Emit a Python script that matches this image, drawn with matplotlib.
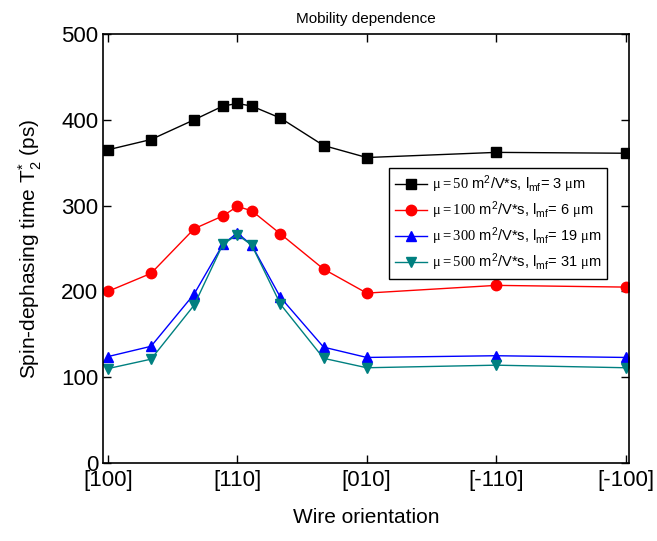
import matplotlib
matplotlib.use("Agg")
import matplotlib.pyplot as plt

plt.rcParams['font.family'] = ['Liberation Sans', 'DejaVu Sans']
plt.rcParams['mathtext.fontset'] = 'custom'
plt.rcParams['mathtext.rm'] = 'Liberation Serif'
plt.rcParams['mathtext.sf'] = 'Liberation Sans'
plt.rcParams['mathtext.it'] = 'Liberation Sans:italic'

angles = [0, 15, 30, 40, 45, 50, 60, 75, 90, 135, 180]
t_mu50 = [365, 377, 400, 416, 419, 416, 402, 370, 356, 362, 361]
t_mu100 = [200, 221, 273, 288, 299, 294, 267, 226, 198, 207, 205]
t_mu300 = [124, 136, 197, 255, 268, 254, 193, 135, 123, 125, 123]
t_mu500 = [110, 121, 184, 255, 266, 254, 185, 122, 111, 114, 111]

tick_pos = [0, 45, 90, 135, 180]
tick_labels = ['[100]', '[110]', '[010]', '[-110]', '[-100]']

fig = plt.figure(figsize=(6.57, 5.41), dpi=100)
ax = fig.add_axes([0.1568, 0.1442, 0.8006, 0.793])

series = [
    (t_mu50, 'black', 's', '50', '3'),
    (t_mu100, '#ff0000', 'o', '100', '6'),
    (t_mu300, '#0000ff', '^', '300', '19'),
    (t_mu500, '#008080', 'v', '500', '31'),
]
for vals, col, mk, mu, lmf in series:
    label = (r"$\mathrm{\mu{=}%s}$ m$^{\mathsf{2}}$/V*s, l$_{\mathsf{mf}}$= %s $\mathrm{\mu}$m"
             % (mu, lmf))
    ax.plot(angles, vals, color=col, marker=mk, markersize=7.5, linewidth=1.0,
            markeredgecolor=col, label=label)

ax.set_xlim(-1.7, 181.2)
ax.set_ylim(0, 500)
ax.set_xticks(tick_pos)
ax.set_xticklabels(tick_labels)
ax.set_yticks([0, 100, 200, 300, 400, 500])
ax.tick_params(direction='in', top=True, right=True, labelsize=16, length=6, width=1)
ax.tick_params(axis='x', pad=5)
for s in ax.spines.values():
    s.set_linewidth(1.2)

ax.set_xlabel('Wire orientation', fontsize=15, labelpad=12)
ax.set_ylabel(r'Spin-dephasing time T$_{\mathsf{2}}^{\mathsf{*}}$ (ps)', fontsize=15, labelpad=12)
ax.set_title('Mobility dependence', fontsize=11, pad=8)

leg = ax.legend(loc='upper right', bbox_to_anchor=(0.958, 0.688), borderaxespad=0,
                fontsize=10.5, frameon=True, fancybox=False, edgecolor='black',
                framealpha=1, handlelength=2.2, borderpad=0.4, labelspacing=0.3,
                handletextpad=0.3)
leg.get_frame().set_linewidth(1.0)

fig.savefig('out.png', dpi=100)
